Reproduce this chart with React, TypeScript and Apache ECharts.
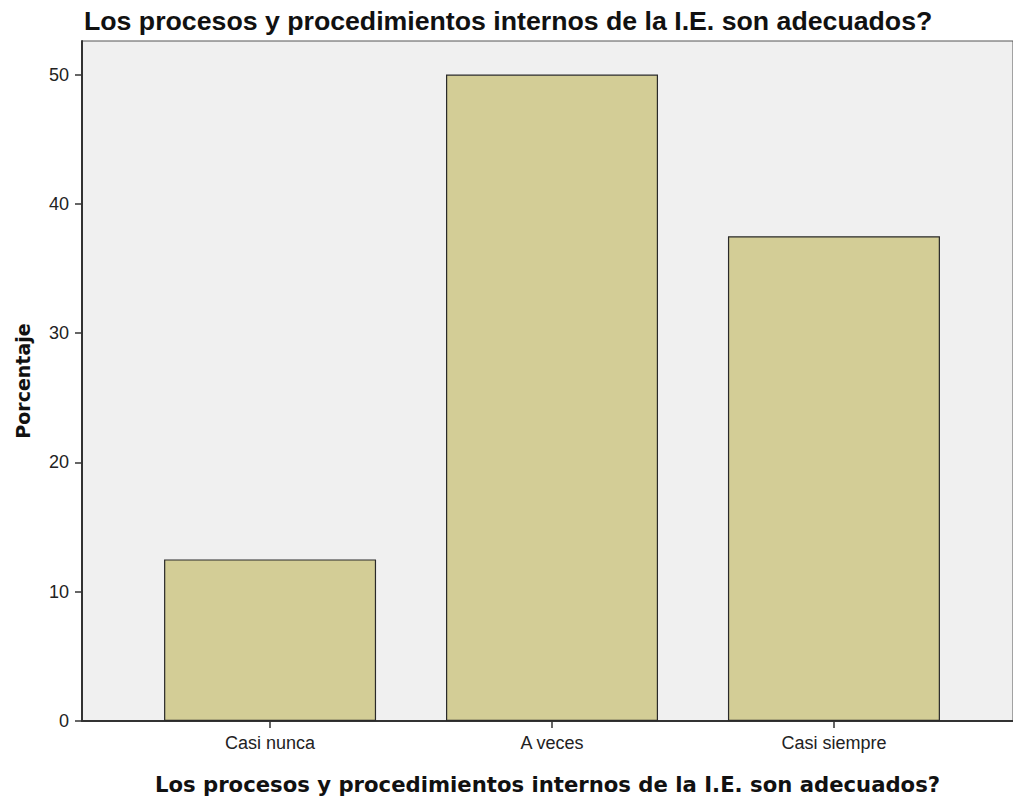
import React, { useEffect, useRef } from "react";
import * as echarts from "echarts";

const categories = ["Casi nunca", "A veces", "Casi siempre"];
const percentages = [12.5, 50, 37.5];
const yTicks = [0, 10, 20, 30, 40, 50];
const titleText = "Los procesos y procedimientos internos de la I.E. son adecuados?";
const yAxisName = "Porcentaje";

export default function App() {
  const ref = useRef<HTMLDivElement>(null);
  useEffect(() => {
    if (!ref.current) return;
    const chart = echarts.init(ref.current, null, { renderer: "svg" });
    const catIdx = categories.map((_, i) => i);
    chart.setOption({
      animation: false,
      backgroundColor: "#ffffff",
      title: {
        text: titleText,
        left: 79,
        top: 2,
        textStyle: {
          fontFamily: "Liberation Sans",
          fontWeight: "bold",
          fontSize: 26.7,
          color: "#111",
        },
      },
      grid: {
        left: 82,
        top: 41,
        right: 0,
        bottom: 79,
        show: true,
        backgroundColor: "#f0f0f0",
        borderColor: "#555",
        borderWidth: 1,
      },
      xAxis: {
        type: "value",
        min: -0.667,
        max: 2.635,
        name: titleText,
        nameLocation: "middle",
        nameGap: 53,
        nameTextStyle: {
          fontFamily: "DejaVu Sans",
          fontWeight: "bold",
          fontSize: 21.2,
          color: "#111",
        },
        axisLine: { show: true, onZero: false, lineStyle: { color: "#333", width: 2 } },
        axisTick: { show: true, length: 7, customValues: catIdx, lineStyle: { color: "#333", width: 1.5 } },
        axisLabel: {
          customValues: catIdx,
          formatter: (v: number) => categories[Math.round(v)] ?? "",
          fontFamily: "Liberation Sans",
          fontSize: 18,
          color: "#222",
          margin: 13,
        },
        splitLine: { show: false },
      },
      yAxis: {
        type: "value",
        min: 0,
        max: 52.6,
        name: yAxisName,
        nameLocation: "middle",
        nameGap: 50,
        nameRotate: 90,
        nameTextStyle: {
          fontFamily: "DejaVu Sans",
          fontWeight: "bold",
          fontSize: 19,
          color: "#111",
        },
        axisLine: { show: true, onZero: false, lineStyle: { color: "#333", width: 2 } },
        axisTick: { show: true, length: 7, customValues: yTicks, lineStyle: { color: "#333", width: 1.5 } },
        axisLabel: { customValues: yTicks, fontFamily: "Liberation Sans", fontSize: 18, color: "#222", margin: 13 },
        splitLine: { show: false },
      },
      series: [
        {
          type: "bar",
          data: percentages.map((v, i) => [i, v]),
          barWidth: 212,
          itemStyle: { color: "#d3cd96", borderColor: "#2a2a2a", borderWidth: 1.2 },
        },
      ],
    });
    return () => chart.dispose();
  }, []);
  return (
    <div
      ref={ref}
      style={{ position: "fixed", left: 0, top: 0, width: 1013, height: 800 }}
    />
  );
}
